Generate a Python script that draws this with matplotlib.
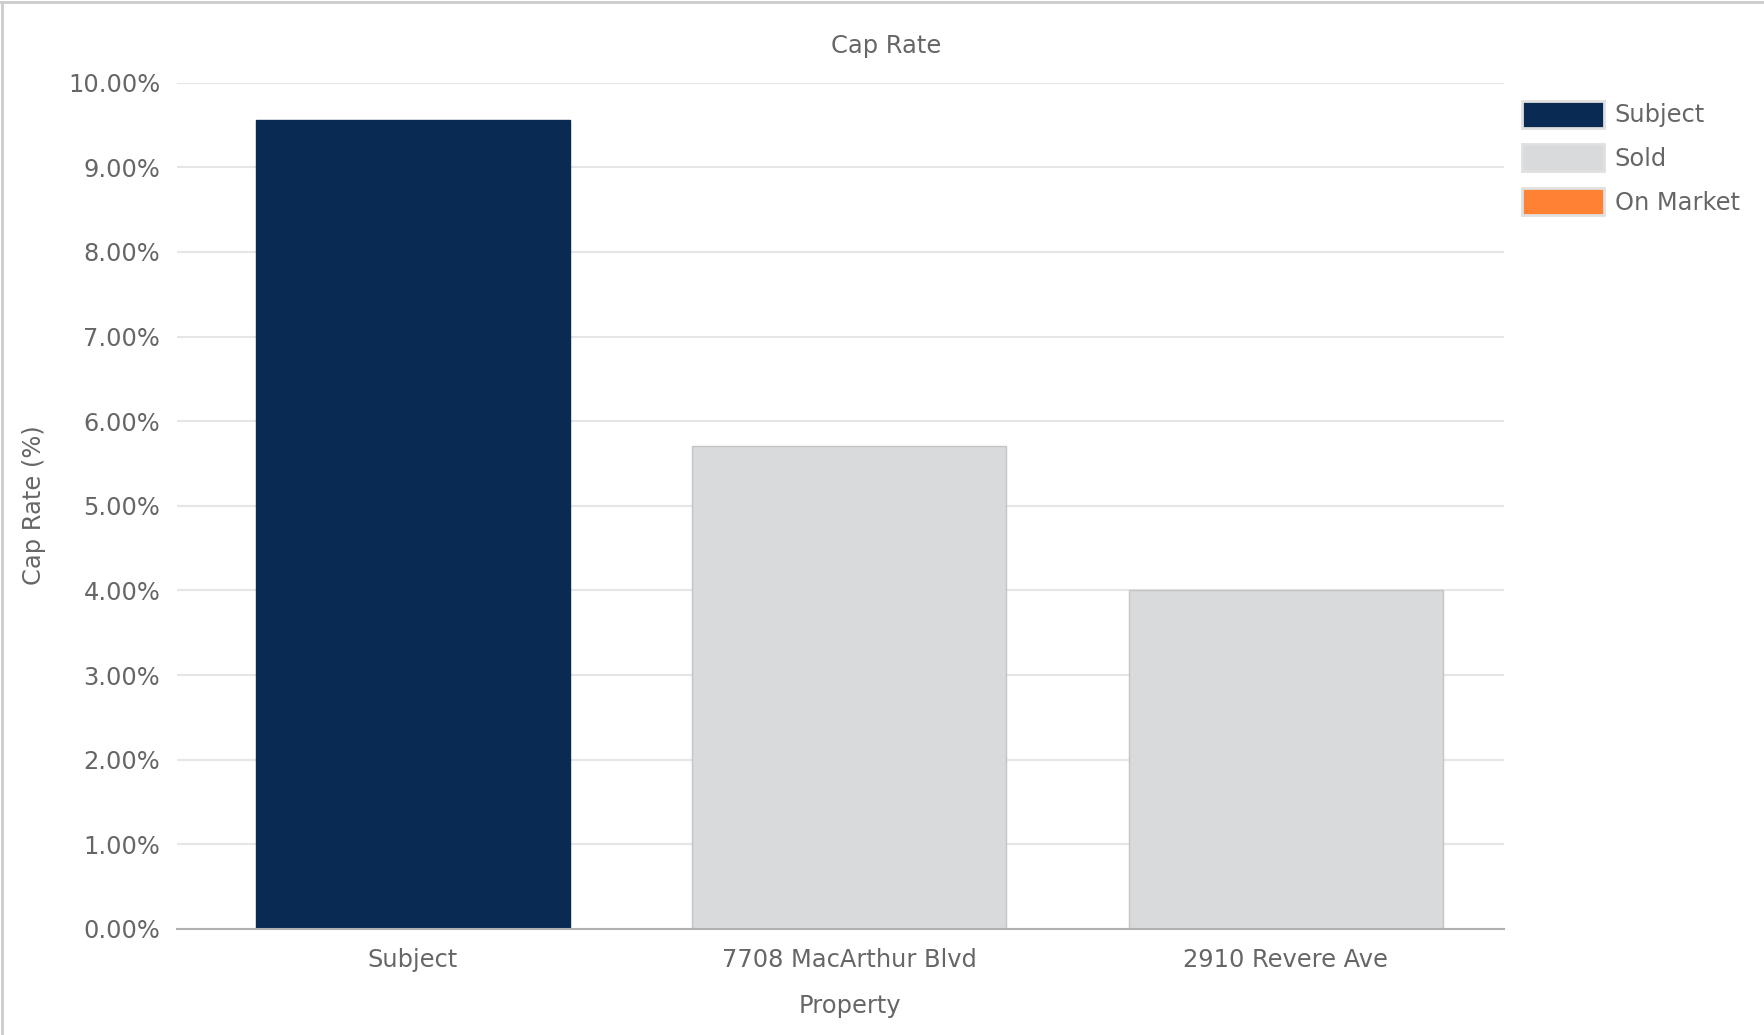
import matplotlib
matplotlib.use('Agg')
import matplotlib.pyplot as plt
from matplotlib.patches import Patch
from matplotlib.lines import Line2D
from matplotlib.ticker import FuncFormatter

# data
properties = ['Subject', '7708 MacArthur Blvd', '2910 Revere Ave']
cap_rate = [9.56, 5.71, 4.00]
status = ['Subject', 'Sold', 'Sold']
legend_labels = ['Subject', 'Sold', 'On Market']
colors = {'Subject': '#082a53', 'Sold': '#d9dadb', 'On Market': '#ff8133'}
edges = {'Subject': '#082a53', 'Sold': '#c4c4c4', 'On Market': '#ff8133'}

text_col = '#666666'
fs = 17.4
plt.rcParams['font.family'] = ['DejaVu Sans']

fig = plt.figure(figsize=(17.65, 10.35), dpi=100)
ax = fig.add_axes([177 / 1765, 1 - 929 / 1035, (1504 - 177) / 1765, (929 - 82.7) / 1035])

x = range(len(properties))
ax.bar(x, cap_rate, width=0.72,
       color=[colors[s] for s in status],
       edgecolor=[edges[s] for s in status], linewidth=1, zorder=3)

ax.set_ylim(0, 10)
ax.set_xlim(-0.54, 2.5)
ax.set_yticks(range(0, 11))
ax.yaxis.set_major_formatter(FuncFormatter(lambda v, p: f'{v:.2f}%'))
ax.set_xticks(list(x))
ax.set_xticklabels(properties)
ax.tick_params(length=0, labelsize=fs, labelcolor=text_col)
ax.tick_params(axis='y', pad=12)
ax.tick_params(axis='x', pad=14)
ax.grid(axis='y', color='#e6e6e6', linewidth=1.5, zorder=0)
for s in ['top', 'right', 'left']:
    ax.spines[s].set_visible(False)
ax.spines['bottom'].set_color('#b0b0b0')
ax.spines['bottom'].set_linewidth(1.5)
ax.spines['bottom'].set_zorder(4)

# labels
fig.text(886 / 1765, 1 - 46 / 1035, 'Cap Rate', ha='center', va='center', fontsize=fs, color=text_col)
fig.text(850 / 1765, 1 - 1006 / 1035, 'Property', ha='center', va='center', fontsize=fs, color=text_col)
fig.text(34 / 1765, 1 - 505 / 1035, 'Cap Rate (%)', ha='center', va='center', rotation=90,
         fontsize=fs, color=text_col)

# legend
handles = [Patch(facecolor=colors[l], edgecolor='#e0e0e0', linewidth=2, label=l) for l in legend_labels]
leg = fig.legend(handles=handles, loc='upper left', bbox_to_anchor=(1500 / 1765, 1 - 79 / 1035),
                 frameon=False, fontsize=fs, handlelength=3.4, handleheight=1.35,
                 labelspacing=0.68, handletextpad=0.45)
for t in leg.get_texts():
    t.set_color(text_col)

# figure border (left and top)
fig.add_artist(Line2D([0.001, 0.001], [0, 0.998], transform=fig.transFigure, color='#cccccc', lw=2))
fig.add_artist(Line2D([0, 1], [0.998, 0.998], transform=fig.transFigure, color='#cccccc', lw=2))

fig.savefig('out.png', dpi=100, facecolor='white')
